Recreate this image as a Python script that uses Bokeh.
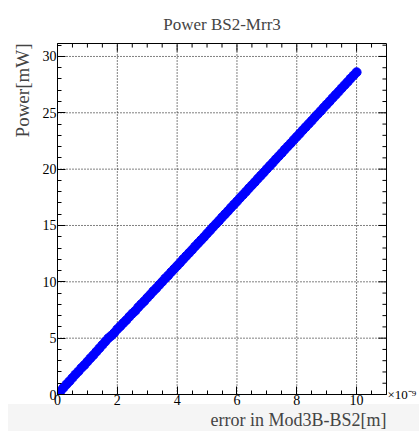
from bokeh.plotting import figure
from bokeh.models import Range1d, LinearAxis, Title, BasicTicker, FixedTicker
from bokeh.embed import file_html
from bokeh.resources import INLINE

title_text = "Power BS2-Mrr3"
x_label = "error in Mod3B-BS2[m]"
y_label = "Power[mW]"
x_exponent = "\u00d710\u207b\u2079"

# x: error in Mod3B-BS2 (units of 1e-9 m), y: power (mW)
err_x = [0.05, 0.1, 0.2, 0.3, 0.4, 0.5, 0.6, 0.7, 0.8, 0.9, 1.0,
         1.1, 1.2, 1.3, 1.4, 1.5, 1.6, 1.7, 1.8, 1.9, 2.0,
         2.1, 2.2, 2.3, 2.4, 2.5, 2.6, 2.7, 2.8, 2.9, 3.0,
         3.1, 3.2, 3.3, 3.4, 3.5, 3.6, 3.7, 3.8, 3.9, 4.0,
         4.1, 4.2, 4.3, 4.4, 4.5, 4.6, 4.7, 4.8, 4.9, 5.0,
         5.1, 5.2, 5.3, 5.4, 5.5, 5.6, 5.7, 5.8, 5.9, 6.0,
         6.1, 6.2, 6.3, 6.4, 6.5, 6.6, 6.7, 6.8, 6.9, 7.0,
         7.1, 7.2, 7.3, 7.4, 7.5, 7.6, 7.7, 7.8, 7.9, 8.0,
         8.1, 8.2, 8.3, 8.4, 8.5, 8.6, 8.7, 8.8, 8.9, 9.0,
         9.1, 9.2, 9.3, 9.4, 9.5, 9.6, 9.7, 9.8, 9.9, 10.0]
power_y = [0.12, 0.30, 0.60, 0.90, 1.18, 1.48, 1.78, 2.05, 2.36, 2.62, 2.92,
           3.22, 3.50, 3.80, 4.10, 4.40, 4.70, 5.00, 5.22, 5.48, 5.80,
           6.06, 6.34, 6.60, 6.90, 7.18, 7.42, 7.74, 8.02, 8.28, 8.58,
           8.86, 9.16, 9.42, 9.72, 10.00, 10.30, 10.56, 10.86, 11.14, 11.42,
           11.70, 12.00, 12.28, 12.56, 12.84, 13.14, 13.42, 13.70, 13.98, 14.28,
           14.56, 14.86, 15.14, 15.42, 15.72, 16.00, 16.28, 16.58, 16.86, 17.14,
           17.44, 17.72, 18.00, 18.30, 18.58, 18.86, 19.16, 19.44, 19.72, 20.02,
           20.30, 20.58, 20.88, 21.16, 21.44, 21.74, 22.02, 22.30, 22.60, 22.88,
           23.16, 23.46, 23.74, 24.02, 24.30, 24.60, 24.88, 25.16, 25.46, 25.74,
           26.02, 26.32, 26.60, 26.88, 27.18, 27.46, 27.74, 28.04, 28.32, 28.60]

x_ticks = [0, 2, 4, 6, 8, 10]
y_ticks = [0, 5, 10, 15, 20, 25, 30]
x_minor = [0.5, 1.0, 1.5, 2.5, 3.0, 3.5, 4.5, 5.0, 5.5, 6.5, 7.0, 7.5,
           8.5, 9.0, 9.5, 10.5]
y_minor = [1, 2, 3, 4, 6, 7, 8, 9, 11, 12, 13, 14, 16, 17, 18, 19,
           21, 22, 23, 24, 26, 27, 28, 29, 31]

X_MIN, X_MAX = 0.0, 11.0
Y_MIN, Y_MAX = 0.0, 31.15

# tick lengths (8 px major, 4 px minor) expressed in data units
TX_MAJ, TX_MIN = 0.27, 0.135
TY_MAJ, TY_MIN = 0.71, 0.36

FONT = "Liberation Serif"

p = figure(width=419, height=431, output_backend="svg", toolbar_location=None,
           x_range=Range1d(X_MIN, X_MAX), y_range=Range1d(Y_MIN, Y_MAX),
           x_axis_type=None, y_axis_type=None,
           min_border_left=57, min_border_right=29, min_border_top=43, min_border_bottom=37,
           background_fill_color="white", border_fill_alpha=0.0)
# remove any default grid renderers
p.center = []
p.styles = {"background": "linear-gradient(white, white) 0 0 / 8px 100% no-repeat, "
                          "linear-gradient(to bottom, white 404px, #f5f5f5 404px)"}
p.outline_line_color = "black"

p.title.text = title_text
p.title.text_font = FONT
p.title.text_font_size = "17px"
p.title.text_font_style = "normal"
p.title.align = "center"
p.title.standoff = 20

bottom_ax = LinearAxis(ticker=BasicTicker(desired_num_ticks=6, num_minor_ticks=4))
left_ax = LinearAxis(ticker=BasicTicker(desired_num_ticks=6, num_minor_ticks=5))
p.add_layout(bottom_ax, "below")
p.add_layout(left_ax, "left")

for ax in [bottom_ax, left_ax]:
    ax.axis_line_color = "black"
    ax.axis_line_width = 1
    ax.major_tick_in = 8
    ax.major_tick_out = 0
    ax.minor_tick_in = 4
    ax.minor_tick_out = 0
    ax.major_tick_line_color = "black"
    ax.minor_tick_line_color = "black"
    ax.major_label_text_font = FONT
    ax.major_label_text_font_size = "14px"
    ax.major_label_text_color = "black"
    ax.major_label_standoff = 1
bottom_ax.major_label_standoff = 0

# right axis only carries the x exponent label
right_ax = LinearAxis(ticker=FixedTicker(ticks=[0], minor_ticks=[]))
right_ax.major_label_overrides = {0: x_exponent}
right_ax.axis_line_color = None
right_ax.major_tick_line_color = None
right_ax.minor_tick_line_color = None
right_ax.major_tick_in = 0
right_ax.major_tick_out = 0
right_ax.major_label_standoff = 1
right_ax.major_label_text_font = FONT
right_ax.major_label_text_font_size = "13px"
right_ax.major_label_text_color = "black"
p.add_layout(right_ax, "right")

# dotted grid lines at the major ticks
p.segment(x0=x_ticks, y0=[Y_MIN] * len(x_ticks), x1=x_ticks, y1=[Y_MAX] * len(x_ticks),
          line_color="black", line_dash="1 2", line_width=1)
p.segment(x0=[X_MIN] * len(y_ticks), y0=y_ticks, x1=[X_MAX] * len(y_ticks), y1=y_ticks,
          line_color="black", line_dash="1 2", line_width=1)

# ticks on the top and right frame edges
p.segment(x0=x_ticks, y0=[Y_MAX] * len(x_ticks), x1=x_ticks,
          y1=[Y_MAX - TY_MAJ] * len(x_ticks), line_color="black", line_width=1)
p.segment(x0=x_minor, y0=[Y_MAX] * len(x_minor), x1=x_minor,
          y1=[Y_MAX - TY_MIN] * len(x_minor), line_color="black", line_width=1)
p.segment(x0=[X_MAX] * len(y_ticks), y0=y_ticks, x1=[X_MAX - TX_MAJ] * len(y_ticks),
          y1=y_ticks, line_color="black", line_width=1)
p.segment(x0=[X_MAX] * len(y_minor), y0=y_minor, x1=[X_MAX - TX_MIN] * len(y_minor),
          y1=y_minor, line_color="black", line_width=1)

p.scatter(err_x, power_y, marker="circle", size=9, fill_color="#0000ff",
          line_color="#0000ff")

p.add_layout(Title(text=x_label, text_font=FONT, text_font_size="18px",
                   text_font_style="normal", align="right", standoff=0), "below")
p.add_layout(Title(text=y_label, text_font=FONT, text_font_size="19px",
                   text_font_style="normal", align="right", standoff=14), "left")

open("out.html", "w").write(file_html(p, INLINE))
